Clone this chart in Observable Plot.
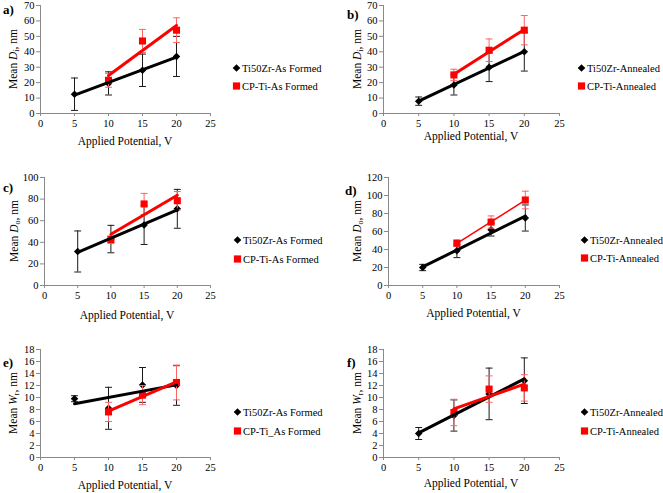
<!DOCTYPE html>
<html><head><meta charset="utf-8">
<script src="https://cdn.jsdelivr.net/npm/d3@7"></script>
<script src="https://cdn.jsdelivr.net/npm/@observablehq/plot@0.6"></script>
<style>
body{margin:0;background:#fff;}
#root{position:relative;width:663px;height:493px;overflow:hidden;font-family:"Liberation Serif","Times New Roman",serif;color:#000;background:#fff;}
.abs{position:absolute;}
.plab{font-weight:bold;font-size:13px;transform:translateY(-50%);}
.xlab{font-size:11.5px;white-space:nowrap;transform:translate(-50%,-50%);}
.ylab{font-size:11.5px;white-space:nowrap;transform:translate(-50%,-50%) rotate(-90deg);}
.ylab sub{font-size:8px;vertical-align:-2px;line-height:0;}
.leg{font-size:10.5px;white-space:nowrap;display:flex;align-items:center;transform:translateY(-50%);}
.leg svg{margin-right:1px;}
</style></head><body><div id="root"></div>
<script>
// ---- data ----
const xTicks = [0, 5, 10, 15, 20, 25];
const zrPotentials = [5, 10, 15, 20];
const tiPotentials = [10, 15, 20];

// a) Mean Di, as formed
const aZrMean = [12.5, 19.5, 28, 37];
const aZrErr  = [10.5, 7.5, 10.5, 13];
const aTiMean = [21.5, 47, 54];
const aTiErr  = [4.5, 7.5, 8];
// b) Mean Di, annealed
const bZrMean = [8, 18.5, 30, 40];
const bZrErr  = [2.7, 6.5, 9.3, 12.5];
const bTiMean = [25, 41, 54];
const bTiErr  = [3.7, 7.3, 9.5];
// c) Mean Do, as formed
const cZrMean = [31.5, 43, 56, 71];
const cZrErr  = [19, 12.7, 18, 18];
const cTiMean = [42.5, 75.5, 78.5];
const cTiErr  = [3.5, 9.8, 8.5];
// d) Mean Do, annealed
const dZrMean = [20, 38.5, 62, 75];
const dZrErr  = [3.5, 7.5, 7, 14.5];
const dTiMean = [47, 70.5, 95];
const dTiErr  = [3.5, 6.8, 9.8];
// e) Mean Wr, as formed
const eZrMean = [9.8, 8.2, 12.1, 12.0];
const eZrErr  = [0.5, 3.5, 2.9, 3.3];
const eTiMean = [7.6, 10.4, 12.5];
const eTiErr  = [1.6, 1.6, 2.9];
// f) Mean Wr, annealed
const fZrMean = [4.0, 7.0, 10.6, 12.8];
const fZrErr  = [1.0, 2.6, 4.3, 3.8];
const fTiMean = [7.5, 11.4, 11.6];
const fTiErr  = [2.2, 2.2, 2.2];

// ---- panel setup ----
const panels = [
  {tag:"a)", sym:"D", sub:"i", yMax:70, yStep:10, zr:aZrMean, zrE:aZrErr, ti:aTiMean, tiE:aTiErr,
   zrName:"Ti50Zr-As Formed", tiName:"CP-Ti-As Formed",
   L:40, R:210, T:5, B:113, yl:13, xlY:141, tagX:3, tagY:10, legX:232, legY:[68,86], redW:3},
  {tag:"b)", sym:"D", sub:"i", yMax:70, yStep:10, zr:bZrMean, zrE:bZrErr, ti:bTiMean, tiE:bTiErr,
   zrName:"Ti50Zr-Annealed", tiName:"CP-Ti-Annealed",
   L:383, R:559, T:5, B:113, yl:357, xlY:136, tagX:347, tagY:15, legX:577, legY:[68,86], redW:3},
  {tag:"c)", sym:"D", sub:"o", yMax:100, yStep:20, zr:cZrMean, zrE:cZrErr, ti:cTiMean, tiE:cTiErr,
   zrName:"Ti50Zr-As Formed", tiName:"CP-Ti-As Formed",
   L:44, R:210, T:177, B:285, yl:14, xlY:315, tagX:3, tagY:188, legX:233, legY:[240,259], redW:3},
  {tag:"d)", sym:"D", sub:"o", yMax:120, yStep:20, zr:dZrMean, zrE:dZrErr, ti:dTiMean, tiE:dTiErr,
   zrName:"Ti50Zr-Annealed", tiName:"CP-Ti-Annealed",
   L:388, R:559, T:177, B:285, yl:357, xlY:313, tagX:345, tagY:191, legX:580, legY:[240,258], redW:1.5},
  {tag:"e)", sym:"W", sub:"r", yMax:18, yStep:2, zr:eZrMean, zrE:eZrErr, ti:eTiMean, tiE:eTiErr,
   zrName:"Ti50Zr-As Formed", tiName:"CP-Ti_As Formed",
   L:40, R:210, T:349, B:457, yl:13, xlY:485, tagX:3, tagY:363, legX:233, legY:[412,431], redW:3},
  {tag:"f)", sym:"W", sub:"r", yMax:18, yStep:2, zr:fZrMean, zrE:fZrErr, ti:fTiMean, tiE:fTiErr,
   zrName:"Ti50Zr-Annealed", tiName:"CP-Ti-Annealed",
   L:383, R:559, T:349, B:457, yl:357, xlY:483, tagX:347, tagY:363, legX:580, legY:[412,431], redW:3}
];

const root = document.getElementById("root");
const AX = "#8a8a8a", RED = "#ff0000", RED_ERR = "#ff6464", BLK_ERR = "#1a1a1a";
const cap = {draw(ctx, size){ const s = Math.sqrt(size); ctx.moveTo(-s/2, 0); ctx.lineTo(s/2, 0); }};

function addDiv(cls, x, y, html){
  const d = document.createElement("div");
  d.className = "abs " + cls;
  d.style.left = x + "px"; d.style.top = y + "px";
  d.innerHTML = html;
  root.appendChild(d);
  return d;
}

const diamondSvg = '<svg width="9" height="9" viewBox="-4.5 -4.5 9 9"><path d="M0,-3.8L3.8,0L0,3.8L-3.8,0Z" fill="#000"/></svg>';
const squareSvg = '<svg width="9" height="9" viewBox="-4.5 -4.5 9 9"><rect x="-3.6" y="-3.6" width="7.2" height="7.2" fill="'+RED+'"/></svg>';

for (const p of panels) {
  const zr = zrPotentials.map((x, i) => ({x, y: p.zr[i], e: p.zrE[i]}));
  const ti = tiPotentials.map((x, i) => ({x, y: p.ti[i], e: p.tiE[i]}));
  const mL = 32, mR = 12, mT = 8, mB = 22;
  const w = p.R - p.L, h = p.B - p.T;
  const chart = Plot.plot({
    width: w + mL + mR, height: h + mT + mB,
    marginLeft: mL, marginRight: mR, marginTop: mT, marginBottom: mB,
    x: {domain: [0, 25]},
    y: {domain: [0, p.yMax]},
    style: {fontFamily: '"Liberation Serif", "Times New Roman", serif', fontSize: "10.5px", background: "transparent", overflow: "visible", color: "#000"},
    marks: [
      Plot.axisX({ticks: xTicks, tickSize: 3, tickPadding: 3, stroke: AX, fill: "#000", label: null, tickFormat: d => String(d)}),
      Plot.axisY({ticks: d3.range(0, p.yMax + 1e-9, p.yStep), tickSize: 4, tickPadding: 2, stroke: AX, fill: "#000", label: null, tickFormat: d => String(d)}),
      Plot.ruleY([0], {stroke: AX}),
      Plot.ruleX([0], {stroke: AX}),
      // Ti50Zr error bars + markers
      Plot.ruleX(zr, {x: "x", y1: d => d.y - d.e, y2: d => d.y + d.e, stroke: BLK_ERR, strokeWidth: 1}),
      Plot.dot(zr, {x: "x", y: d => d.y - d.e, symbol: cap, r: 3.9, fill: "none", stroke: BLK_ERR, strokeWidth: 1}),
      Plot.dot(zr, {x: "x", y: d => d.y + d.e, symbol: cap, r: 3.9, fill: "none", stroke: BLK_ERR, strokeWidth: 1}),
      Plot.dot(zr, {x: "x", y: "y", symbol: "diamond2", r: 3.4, fill: "#000", stroke: "none"}),
      // CP-Ti error bars + markers
      Plot.ruleX(ti, {x: "x", y1: d => d.y - d.e, y2: d => d.y + d.e, stroke: RED_ERR, strokeWidth: 1}),
      Plot.dot(ti, {x: "x", y: d => d.y - d.e, symbol: cap, r: 3.9, fill: "none", stroke: RED_ERR, strokeWidth: 1}),
      Plot.dot(ti, {x: "x", y: d => d.y + d.e, symbol: cap, r: 3.9, fill: "none", stroke: RED_ERR, strokeWidth: 1}),
      Plot.dot(ti, {x: "x", y: "y", symbol: "square", r: 4.0, fill: RED, stroke: "none"}),
      // linear trendlines
      Plot.linearRegressionY(zr, {x: "x", y: "y", stroke: "#000", strokeWidth: 3, ci: 0}),
      Plot.linearRegressionY(ti, {x: "x", y: "y", stroke: RED, strokeWidth: p.redW, ci: 0})
    ]
  });
  chart.style.position = "absolute";
  chart.style.left = (p.L - mL) + "px";
  chart.style.top = (p.T - mT) + "px";
  chart.style.maxWidth = "none";
  root.appendChild(chart);

  addDiv("plab", p.tagX, p.tagY, p.tag);
  addDiv("ylab", p.yl, (p.T + p.B) / 2, 'Mean <i>' + p.sym + '</i><sub>' + p.sub + '</sub>, nm');
  addDiv("xlab", (p.L + p.R) / 2, p.xlY, "Applied Potential, V");
  addDiv("leg", p.legX, p.legY[0], diamondSvg + '<span>' + p.zrName + '</span>');
  addDiv("leg", p.legX, p.legY[1], squareSvg + '<span>' + p.tiName + '</span>');
}
</script></body></html>
